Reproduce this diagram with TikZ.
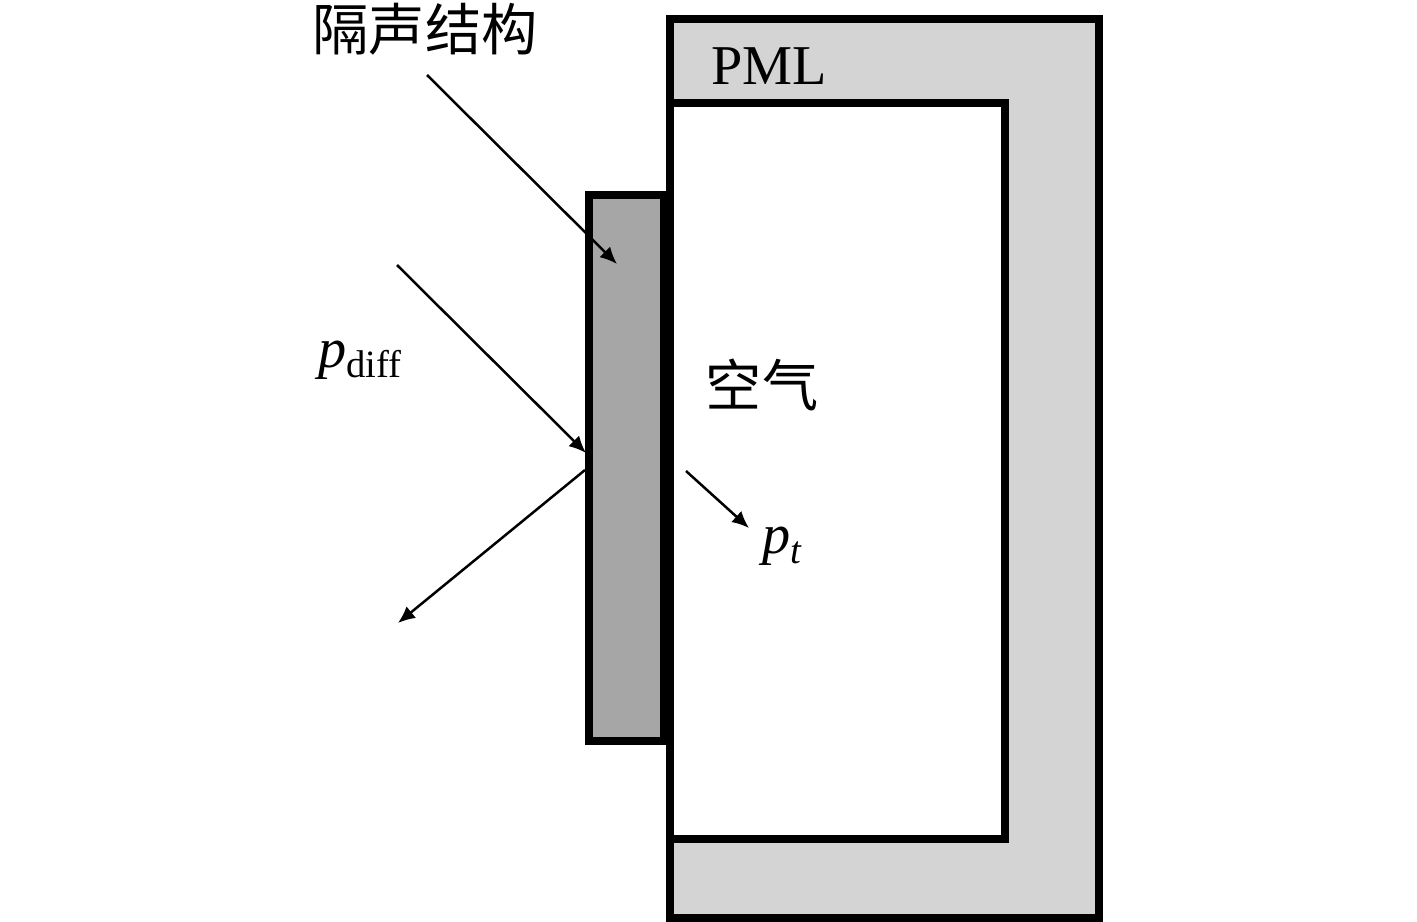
\documentclass[tikz,border=0pt]{standalone}
\usepackage{fontspec}
\setmainfont{Liberation Serif}
\newfontfamily\cjk{Noto Sans CJK SC}
\usetikzlibrary{positioning, arrows.meta, calc}

\begin{document}
\begin{tikzpicture}[
    x=0.02cm, y=-0.02cm,
    wall/.style={draw=black, line width=8*0.02cm},
    wave/.style={-{Latex[length=0.34cm, width=0.3cm]}, line width=0.05cm},
    label/.style={inner sep=0pt, font=\fontsize{32}{36}\selectfont}
]
\useasboundingbox (0,0) rectangle (1417,922);

% Dominio PML e aria
\draw[wall, fill={rgb,255:red,212;green,212;blue,212}] (670,19) rectangle (1099,918);
\draw[wall, fill=white] (670,103) rectangle (1005,839);

% Struttura
\draw[wall, fill={rgb,255:red,166;green,166;blue,166}] (589,195) rectangle (664,741);
\draw[wall] (670,103) -- (670,918);

% Testi
\node[label] (struct) at (425,29) {\cjk 隔声结构};
\node[label] (pml) at (769,66) {PML};
\node[label] (air) at (762,385) {\cjk 空气};
\node[label, anchor=base west] (pdiff) at (318,367)
    {\textit{p}\raisebox{-6pt}{\fontsize{22}{24}\selectfont diff}};
\node[label, anchor=base west] (pt) at (762,553)
    {\textit{p}\raisebox{-6pt}{\fontsize{22}{24}\selectfont\textit{t}}};

% Onde
\coordinate (a1) at (427,75);
\coordinate (b1) at (617,264);
\coordinate (a2) at (397,265);
\coordinate (b2) at (586,453);
\coordinate (a3) at (585,470);
\coordinate (b3) at (398,623);
\coordinate (a4) at (686,471);
\coordinate (b4) at (749,528);

\draw[wave] (a1) -- (b1);
\draw[wave] (a2) -- (b2);
\draw[wave] (a3) -- (b3);
\draw[wave] (a4) -- (b4);

\end{tikzpicture}
\end{document}
